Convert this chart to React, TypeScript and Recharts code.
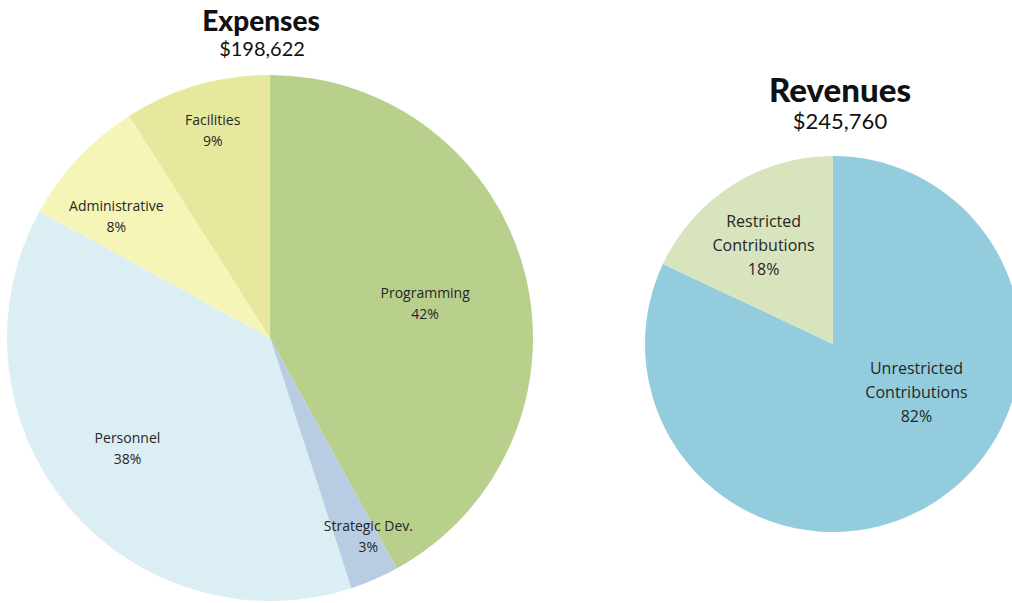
import React from 'react';
import { PieChart, Pie, Cell } from 'recharts';

const expenseNames = ['Programming', 'Strategic Dev.', 'Personnel', 'Administrative', 'Facilities'];
const expenseShares = [42, 3, 38, 8, 9];
const expenseColors = ['#b9d08d', '#b8cce4', '#dbeef4', '#f5f5b8', '#e6e89e'];

const revenueNames = [['Unrestricted', 'Contributions'], ['Restricted', 'Contributions']];
const revenueShares = [82, 18];
const revenueColors = ['#93cddd', '#d8e4bd'];

const expenseTotal = '$198,622';
const revenueTotal = '$245,760';

// label placement, as fractions of the outer radius from the pie centre
const expenseLabelPos = [
  [0.59, -0.134],
  [0.374, 0.752],
  [-0.542, 0.416],
  [-0.584, -0.466],
  [-0.218, -0.794],
];
const revenueLabelPos = [
  [0.444, 0.257],
  [-0.369, -0.524],
];

const expenseData = expenseNames.map((name, i) => ({ name, value: expenseShares[i] }));
const revenueData = revenueNames.map((lines, i) => ({ name: lines.join(' '), lines, value: revenueShares[i] }));

const makeLabel = (pos: number[][], fontSize: number, lineH: number, getLines: (p: any) => string[]) =>
  (props: any) => {
    const { cx, cy, outerRadius, index, value } = props;
    const x = cx + pos[index][0] * outerRadius;
    const y = cy + pos[index][1] * outerRadius;
    const lines = [...getLines(props), `${value}%`];
    const top = y - ((lines.length - 1) * lineH) / 2;
    return (
      <text
        x={x}
        y={top}
        textAnchor="middle"
        dominantBaseline="central"
        fill="#262626"
        style={{ fontFamily: '"Open Sans", sans-serif', fontSize }}
      >
        {lines.map((l, k) => (
          <tspan key={k} x={x} y={top + k * lineH}>{l}</tspan>
        ))}
      </text>
    );
  };

const title: React.CSSProperties = {
  position: 'absolute',
  textAlign: 'center',
  fontFamily: 'Lato, sans-serif',
  color: '#111',
  lineHeight: 1,
};

export default function App() {
  return (
    <div style={{ position: 'absolute', left: 0, top: 0, width: 1012, height: 603, background: '#fff', overflow: 'hidden' }}>
      <PieChart width={1012} height={603} margin={{ top: 0, right: 0, bottom: 0, left: 0 }}>
        <Pie
          data={expenseData}
          dataKey="value"
          cx={270}
          cy={338}
          outerRadius={263}
          startAngle={90}
          endAngle={-270}
          stroke="none"
          labelLine={false}
          label={makeLabel(expenseLabelPos, 14, 21, (p) => [p.name])}
          isAnimationActive={false}
        >
          {expenseData.map((d, i) => (
            <Cell key={d.name} fill={expenseColors[i]} />
          ))}
        </Pie>
        <Pie
          data={revenueData}
          dataKey="value"
          cx={833}
          cy={344}
          outerRadius={188}
          startAngle={90}
          endAngle={-270}
          stroke="none"
          labelLine={false}
          label={makeLabel(revenueLabelPos, 16, 24, (p) => p.payload.lines)}
          isAnimationActive={false}
        >
          {revenueData.map((d, i) => (
            <Cell key={d.name} fill={revenueColors[i]} />
          ))}
        </Pie>
      </PieChart>
      <div style={{ ...title, left: 151, width: 220, top: 6, fontSize: 28, fontWeight: 900 }}>Expenses</div>
      <div style={{ ...title, left: 152, width: 220, top: 38, fontSize: 20 }}>{expenseTotal}</div>
      <div style={{ ...title, left: 730, width: 220, top: 73, fontSize: 33, fontWeight: 900 }}>Revenues</div>
      <div style={{ ...title, left: 730, width: 220, top: 110, fontSize: 22 }}>{revenueTotal}</div>
    </div>
  );
}
